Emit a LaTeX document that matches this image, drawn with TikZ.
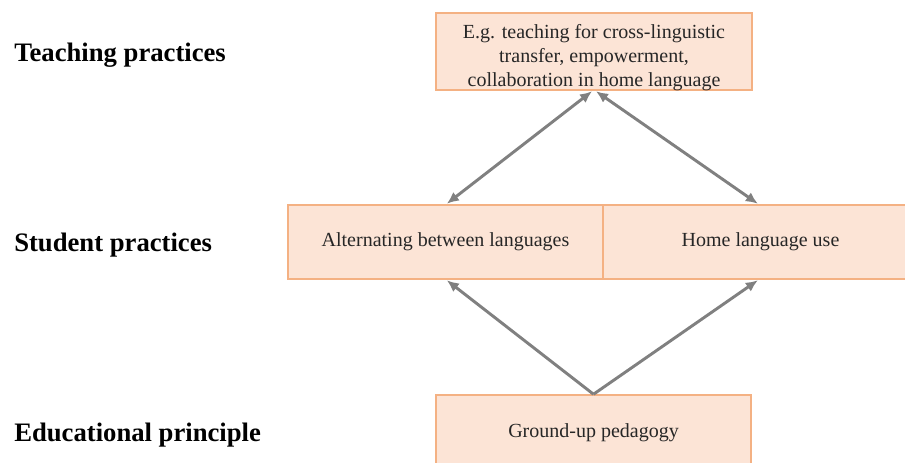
\documentclass[tikz,border=0pt]{standalone}
\usepackage{fontspec}
\setmainfont{Liberation Serif}
\usetikzlibrary{arrows.meta}
\definecolor{boxfill}{RGB}{252,228,214}
\definecolor{boxline}{RGB}{244,177,131}
\definecolor{arrowgray}{RGB}{128,128,128}
\begin{document}
\begin{tikzpicture}[x=0.75pt,y=-0.75pt,
  box/.style={draw=boxline,fill=boxfill,line width=1.4pt,inner sep=0pt,
    minimum width=236pt,minimum height=56pt,align=center,
    font=\fontsize{15pt}{18pt}\selectfont,text=black!85},
  lbl/.style={anchor=base west,inner sep=0pt,font=\fontsize{20pt}{24pt}\selectfont\bfseries},
  conn/.style={draw=arrowgray,line width=2.2pt,-{Latex[length=9pt,width=8pt]}},
  conn2/.style={draw=arrowgray,line width=2.2pt,{Latex[length=9pt,width=8pt]}-{Latex[length=9pt,width=8pt]}}]
\useasboundingbox (0,0) rectangle (905,463);
\node[box,minimum width=237pt] (top) at (594,51.5) {\rule{0pt}{19pt}E.g. teaching for cross-linguistic\\transfer, empowerment,\\collaboration in home language};
\node[box] (alt) at (445.5,242) {Alternating between languages};
\node[box] (home) at (760.5,242) {Home language use};
\node[box] (ground) at (593.5,432.5) {Ground-up pedagogy};
\node[lbl] (l1) at (14,62) {Teaching practices};
\node[lbl] (l2) at (14,251) {Student practices};
\node[lbl] (l3) at (14,441) {Educational principle};
\draw[conn2] ([xshift=-1.5pt]top.south) -- ([xshift=1pt]alt.north);
\draw[conn2] ([xshift=1.5pt]top.south) -- ([xshift=-2pt]home.north);
\draw[conn] (ground.north) -- ([xshift=1pt]alt.south);
\draw[conn] (ground.north) -- ([xshift=-2pt]home.south);
\end{tikzpicture}
\end{document}
